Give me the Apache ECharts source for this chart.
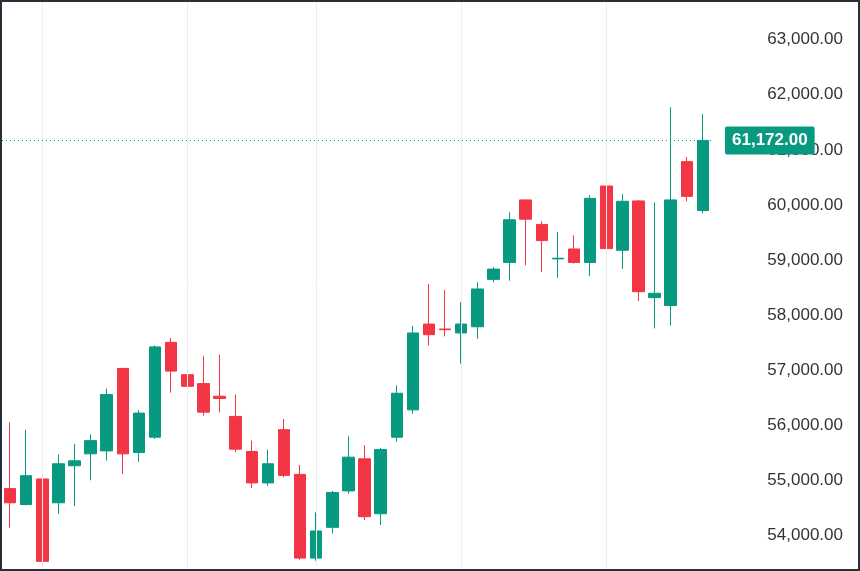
<!DOCTYPE html>
<html>
<head>
<meta charset="utf-8">
<script src="https://cdn.jsdelivr.net/npm/echarts@6/dist/echarts.min.js"></script>
<style>
  html, body { margin: 0; padding: 0; background: #fff; }
  #chart { width: 860px; height: 571px; box-sizing: border-box; border: 2px solid #2a2e39; }
</style>
</head>
<body>
<div id="chart"></div>
<script>
// [open, close, low, high]
const candles = [
  [54846, 54588, 54137, 56049],
  [54557, 55080, 54540, 55916],
  [55021, 53524, 53444, 55297],
  [54588, 55297, 54389, 55465],
  [55261, 55351, 54527, 55658],
  [55477, 55717, 54996, 55825],
  [55531, 56554, 55356, 56663],
  [57029, 55477, 55111, 57040],
  [55501, 56217, 55333, 56271],
  [55779, 57420, 55748, 57449],
  [57503, 56980, 56590, 57583],
  [56915, 56704, 56590, 57330],
  [56753, 56235, 56168, 57251],
  [56524, 56482, 56229, 57276],
  [56157, 55562, 55508, 56554],
  [55519, 54949, 54858, 55717],
  [54949, 55297, 54894, 55555],
  [55916, 55086, 55050, 56109],
  [55104, 53583, 53553, 55273],
  [53583, 54076, 53535, 54413],
  [54142, 54774, 54029, 54804],
  [54804, 55417, 54750, 55797],
  [55387, 54335, 54274, 55634],
  [54389, 55555, 54184, 55585],
  [55779, 56578, 55700, 56722],
  [56276, 57673, 56204, 57805],
  [57835, 57642, 57449, 58562],
  [57745, 57732, 57611, 58454],
  [57673, 57835, 57114, 58232],
  [57786, 58472, 57565, 58593],
  [58647, 58833, 58593, 58869],
  [58954, 59729, 58622, 59866],
  [60090, 59740, 58905, 60100],
  [59645, 59351, 58784, 59704],
  [59019, 59031, 58676, 59506],
  [59199, 58954, 58936, 59446],
  [58954, 60119, 58706, 60180],
  [60343, 59206, 59127, 60426],
  [59176, 60065, 58838, 60198],
  [60072, 58423, 58255, 60090],
  [58315, 58394, 57756, 60041],
  [58171, 60090, 57810, 61773],
  [60786, 60155, 60065, 60871],
  [59897, 61172, 59848, 61652]
];
const categories = candles.map((_, i) => String(i));
const yTicks = [54000, 55000, 56000, 57000, 58000, 59000, 60000, 61000, 62000, 63000];
const gridIndices = [2, 11, 19, 28, 37];
const lastPrice = 61172;

const fmt = (v) => v.toLocaleString('en-US', { minimumFractionDigits: 2, maximumFractionDigits: 2 });

const chart = echarts.init(document.getElementById('chart'));
chart.setOption({
  animation: false,
  grid: { left: -3, right: 147, top: -2, bottom: -2 },
  xAxis: {
    type: 'category',
    data: categories,
    axisLine: { show: false },
    axisTick: { show: false },
    axisLabel: { show: false },
    splitLine: { show: false }
  },
  yAxis: {
    type: 'value',
    position: 'right',
    min: 53385,
    max: 63686,
    splitLine: { show: false },
    axisLine: { show: false },
    axisTick: { show: false },
    axisLabel: {
      customValues: yTicks,
      formatter: (v) => fmt(v),
      align: 'right',
      margin: 132,
      color: '#333',
      fontSize: 17,
      fontFamily: 'Liberation Sans, Arial, sans-serif'
    }
  },
  series: [
    {
      type: 'candlestick',
      data: candles.map((c) => [c[0], c[1], c[2], c[3]]),
      barWidth: 12,
      itemStyle: {
        color: '#089981',
        color0: '#f23645',
        borderColor: '#089981',
        borderColor0: '#f23645',
        borderWidth: 1
      },
      markLine: {
        silent: true,
        symbol: 'none',
        data: [
          ...gridIndices.map((i) => ({
            xAxis: String(i),
            lineStyle: { color: '#eeeeee', type: 'solid', width: 1 },
            label: { show: false }
          })),
          {
            yAxis: lastPrice,
            lineStyle: { color: '#089981', type: [1, 3], width: 1 },
            label: {
              show: true,
              position: 'end',
              distance: 14,
              formatter: fmt(lastPrice),
              backgroundColor: '#089981',
              color: '#fff',
              fontSize: 17,
              fontWeight: 'bold',
              fontFamily: 'Liberation Sans, Arial, sans-serif',
              padding: [6, 7, 5, 7],
              borderRadius: 2
            }
          }
        ]
      }
    }
  ]
});
</script>
</body>
</html>
